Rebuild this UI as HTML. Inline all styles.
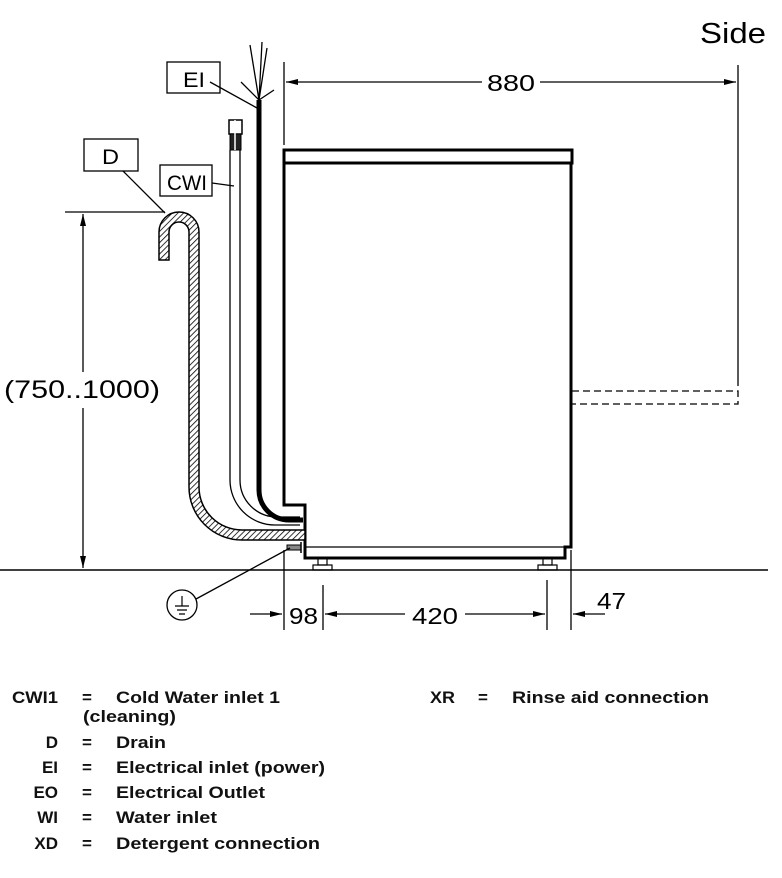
<!DOCTYPE html>
<html><head><meta charset="utf-8"><style>
body{margin:0;background:#fff;}
svg{display:block;}
text{font-family:"Liberation Sans",sans-serif;}
.lg{font-family:"Liberation Sans",sans-serif;font-weight:bold;font-size:17px;fill:#111;}
</style></head><body>
<svg width="782" height="878" viewBox="0 0 782 878" xmlns="http://www.w3.org/2000/svg">
<defs>
<pattern id="h" width="4" height="4" patternUnits="userSpaceOnUse" patternTransform="rotate(45)">
<rect width="4" height="4" fill="#fff"/><line x1="0" y1="0" x2="0" y2="4" stroke="#000" stroke-width="1.6"/>
</pattern>
<marker id="a" markerWidth="12" markerHeight="6" refX="12" refY="3" orient="auto" markerUnits="userSpaceOnUse"><path d="M0,0 L12,3 L0,6 Z" fill="#000"/></marker>
</defs>
<g stroke="#000" fill="none">
<line x1="0" y1="570" x2="768" y2="570" stroke-width="1.5"/>
<rect x="284" y="150" width="288" height="13" stroke-width="3"/>
<path d="M284,163 L284,505 L305,505 L305,558 L565,558 L565,547 L571,547 L571,163" stroke-width="3"/>
<line x1="305" y1="547" x2="565" y2="547" stroke-width="1.2"/>
<rect x="318" y="558" width="9" height="7" stroke-width="1.2"/>
<rect x="313" y="565" width="19" height="5" stroke-width="1.2"/>
<rect x="543" y="558" width="9" height="7" stroke-width="1.2"/>
<rect x="538" y="565" width="19" height="5" stroke-width="1.2"/>
<path d="M572,391 L738,391 L738,404 L572,404" stroke-width="1.3" stroke-dasharray="7,4"/>
<line x1="284" y1="62" x2="284" y2="145" stroke-width="1.3"/>
<line x1="738" y1="65" x2="738" y2="386" stroke-width="1.3"/>
<line x1="482" y1="82" x2="286" y2="82" stroke-width="1.3" marker-end="url(#a)"/>
<line x1="540" y1="82" x2="736" y2="82" stroke-width="1.3" marker-end="url(#a)"/>
<path d="M159,260 L159,232 A20,20 0 0 1 199,232 L199,487 A43,43 0 0 0 242,530 L305,530 L305,540 L242,540 A53,53 0 0 1 189,487 L189,232 A10,10 0 0 0 169,232 L169,260 Z" fill="url(#h)" stroke-width="1.5"/>
<path d="M230,150 L230,480 A45,45 0 0 0 275,525 L300,525" stroke-width="1.3"/>
<path d="M240,150 L240,480 A37,37 0 0 0 277,517 L300,517" stroke-width="1.3"/>
<rect x="229" y="120" width="13" height="14" fill="#fff" stroke-width="1.5"/>
<rect x="230" y="134" width="11" height="16" fill="#222" stroke-width="1"/>
<line x1="235" y1="120" x2="235" y2="150" stroke="#fff" stroke-width="1.5"/>
<path d="M259,100 L259,490 A30,30 0 0 0 289,520 L303,520" stroke-width="5"/>
<path d="M259,100 L250,45 M259,100 L262,42 M259,100 L267,48 M259,100 L241,82 M259,100 L274,90" stroke-width="1.3"/>
<rect x="167" y="62" width="53" height="31" stroke-width="1.3"/>
<line x1="210" y1="82" x2="257" y2="108" stroke-width="1.3"/>
<rect x="160" y="165" width="52" height="31" stroke-width="1.3"/>
<line x1="212" y1="183" x2="234" y2="186" stroke-width="1.3"/>
<rect x="84" y="139" width="54" height="32" stroke-width="1.3"/>
<line x1="123" y1="171" x2="165" y2="213" stroke-width="1.3"/>
<line x1="65" y1="212" x2="165" y2="212" stroke-width="1.3"/>
<line x1="83" y1="372" x2="83" y2="214" stroke-width="1.3" marker-end="url(#a)"/>
<line x1="83" y1="408" x2="83" y2="568" stroke-width="1.3" marker-end="url(#a)"/>
<rect x="287" y="545" width="14" height="5" fill="#888" stroke-width="1"/>
<line x1="301" y1="542" x2="301" y2="553" stroke-width="1.5"/>
<line x1="290" y1="548" x2="196" y2="599" stroke-width="1.3"/>
<circle cx="182" cy="605" r="15" stroke-width="1.3"/>
<path d="M182,596 L182,606 M175,606 L189,606 M177,610 L187,610 M179,614 L185,614" stroke-width="1.2"/>
<line x1="284" y1="550" x2="284" y2="630" stroke-width="1.3"/>
<line x1="323" y1="585" x2="323" y2="630" stroke-width="1.3"/>
<line x1="547" y1="580" x2="547" y2="630" stroke-width="1.3"/>
<line x1="571" y1="550" x2="571" y2="630" stroke-width="1.3"/>
<line x1="250" y1="614" x2="282" y2="614" stroke-width="1.3" marker-end="url(#a)"/>
<line x1="405" y1="614" x2="325" y2="614" stroke-width="1.3" marker-end="url(#a)"/>
<line x1="465" y1="614" x2="545" y2="614" stroke-width="1.3" marker-end="url(#a)"/>
<line x1="605" y1="614" x2="573" y2="614" stroke-width="1.3" marker-end="url(#a)"/>
</g>
<g fill="#000" font-size="23">
<text x="700" y="43" font-size="29" textLength="66" lengthAdjust="spacingAndGlyphs">Side</text>
<text x="487" y="91" textLength="48" lengthAdjust="spacingAndGlyphs">880</text>
<text x="4" y="398" font-size="25" textLength="156" lengthAdjust="spacingAndGlyphs">(750..1000)</text>
<text x="289" y="624" textLength="29" lengthAdjust="spacingAndGlyphs">98</text>
<text x="412" y="624" textLength="46" lengthAdjust="spacingAndGlyphs">420</text>
<text x="597" y="609" textLength="29" lengthAdjust="spacingAndGlyphs">47</text>
<text x="183" y="87" font-size="21" textLength="22" lengthAdjust="spacingAndGlyphs">EI</text>
<text x="167" y="190" font-size="21" textLength="40" lengthAdjust="spacingAndGlyphs">CWI</text>
<text x="102" y="164" font-size="21" textLength="17" lengthAdjust="spacingAndGlyphs">D</text>
</g>
<g class="lg">
<text x="12" y="703" textLength="46" lengthAdjust="spacingAndGlyphs">CWI1</text><text x="82" y="703">=</text><text x="116" y="703" textLength="164" lengthAdjust="spacingAndGlyphs">Cold Water inlet 1</text>
<text x="83" y="722" textLength="93" lengthAdjust="spacingAndGlyphs">(cleaning)</text>
<text x="58" y="748" text-anchor="end">D</text><text x="82" y="748">=</text><text x="116" y="748" textLength="50" lengthAdjust="spacingAndGlyphs">Drain</text>
<text x="58" y="773" text-anchor="end">EI</text><text x="82" y="773">=</text><text x="116" y="773" textLength="209" lengthAdjust="spacingAndGlyphs">Electrical inlet (power)</text>
<text x="58" y="798" text-anchor="end">EO</text><text x="82" y="798">=</text><text x="116" y="798" textLength="149" lengthAdjust="spacingAndGlyphs">Electrical Outlet</text>
<text x="58" y="823" text-anchor="end">WI</text><text x="82" y="823">=</text><text x="116" y="823" textLength="101" lengthAdjust="spacingAndGlyphs">Water inlet</text>
<text x="58" y="849" text-anchor="end">XD</text><text x="82" y="849">=</text><text x="116" y="849" textLength="204" lengthAdjust="spacingAndGlyphs">Detergent connection</text>
<text x="430" y="703" textLength="25" lengthAdjust="spacingAndGlyphs">XR</text><text x="478" y="703">=</text><text x="512" y="703" textLength="197" lengthAdjust="spacingAndGlyphs">Rinse aid connection</text>
</g>
</svg>
</body></html>
